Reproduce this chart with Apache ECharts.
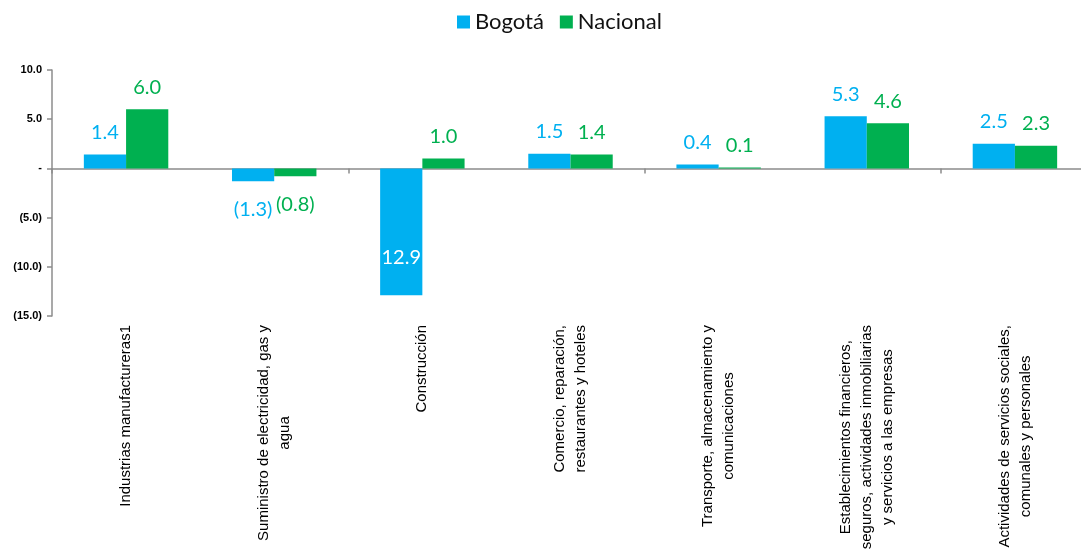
<!DOCTYPE html>
<html>
<head>
<meta charset="utf-8">
<script src="https://cdn.jsdelivr.net/npm/echarts@6/dist/echarts.min.js"></script>
<style>html,body{margin:0;padding:0;background:#fff;overflow:hidden;width:1081px;height:556px;}#chart{width:1092px;height:556px;}</style>
</head>
<body>
<div id="chart"></div>
<script>
const categories = [
  "Industrias manufactureras1",
  "Suministro de electricidad, gas y\nagua",
  "Construcción",
  "Comercio, reparación,\nrestaurantes y hoteles",
  "Transporte, almacenamiento y\ncomunicaciones",
  "Establecimientos financieros,\nseguros, actividades inmobiliarias\ny servicios a las empresas",
  "Actividades de servicios sociales,\ncomunales y personales"
];
const bogota = [1.4, -1.3, -12.9, 1.5, 0.4, 5.3, 2.5];
const nacional = [6.0, -0.8, 1.0, 1.4, 0.1, 4.6, 2.3];
const yTicks = [-15, -10, -5, 0, 5, 10];

const BLUE = '#00B0F0', GREEN = '#00B050';
const valueFont = 'Lato, "Open Sans", sans-serif';

function fmtVal(v) {
  if (v < 0) return '(' + Math.abs(v).toFixed(1) + ')';
  return v.toFixed(1);
}
function labelFor(v) {
  return v < 0 ? { position: 'bottom', distance: 18 } : { position: 'top', distance: 12 };
}
function buildData(arr, bigInside) {
  return arr.map(function (v) {
    if (bigInside && v < -10) {
      return { value: v, label: { position: 'insideBottom', distance: 28, color: '#ffffff',
        formatter: function (p) { return Math.abs(p.value).toFixed(1); } } };
    }
    return { value: v, label: labelFor(v) };
  });
}

const chart = echarts.init(document.getElementById('chart'));
chart.setOption({
  animation: false,
  legend: {
    top: 6, left: 452,
    itemWidth: 13, itemHeight: 13, itemGap: 16,
    icon: 'rect',
    textStyle: { fontFamily: valueFont, fontSize: 22, color: '#111' },
    data: ['Bogotá', 'Nacional']
  },
  grid: { left: 52, top: 70, width: 1037, height: 246 },
  xAxis: [
    {
      type: 'category', data: categories, position: 'bottom',
      axisLine: { show: false, onZero: false },
      axisTick: { show: false },
      axisLabel: {
        rotate: 90, margin: 9, interval: 0,
        fontFamily: 'Arial, "Liberation Sans", sans-serif', fontSize: 15, color: '#000',
        lineHeight: 21,
        formatter: function (v) {
          return v.split('\n').map(function (s) { return '{c|' + s + '}'; }).join('\n');
        },
        rich: { c: { align: 'center', fontFamily: 'Arial, "Liberation Sans", sans-serif', fontSize: 15, lineHeight: 21, color: '#000' } }
      }
    },
    {
      type: 'category', data: categories, position: 'top',
      axisLine: { show: true, onZero: true, lineStyle: { color: '#8c8c8c', width: 1.5 } },
      axisTick: { show: true, inside: true, length: 5, lineStyle: { color: '#8c8c8c', width: 1.5 } },
      axisLabel: { show: false }
    }
  ],
  yAxis: {
    type: 'value', min: yTicks[0], max: yTicks[yTicks.length - 1], interval: 5,
    axisLine: { show: true, lineStyle: { color: '#8c8c8c', width: 1.5 } },
    axisTick: { show: true, length: 5, lineStyle: { color: '#8c8c8c', width: 1.5 } },
    splitLine: { show: false },
    axisLabel: {
      margin: 10, color: '#000', fontWeight: 'bold', fontSize: 11,
      fontFamily: 'Arial, "Liberation Sans", sans-serif',
      formatter: function (v) { return v === 0 ? '-' : fmtVal(v); }
    }
  },
  series: [
    {
      name: 'Bogotá', type: 'bar', xAxisIndex: 0,
      data: buildData(bogota, true),
      itemStyle: { color: BLUE },
      barGap: '0%', barCategoryGap: '43%',
      label: { show: true, color: BLUE, fontFamily: valueFont, fontSize: 20,
        formatter: function (p) { return fmtVal(p.value); } }
    },
    {
      name: 'Nacional', type: 'bar', xAxisIndex: 0,
      data: buildData(nacional, false),
      itemStyle: { color: GREEN },
      barGap: '0%', barCategoryGap: '43%',
      label: { show: true, color: GREEN, fontFamily: valueFont, fontSize: 20,
        formatter: function (p) { return fmtVal(p.value); } }
    }
  ]
});
</script>
</body>
</html>
